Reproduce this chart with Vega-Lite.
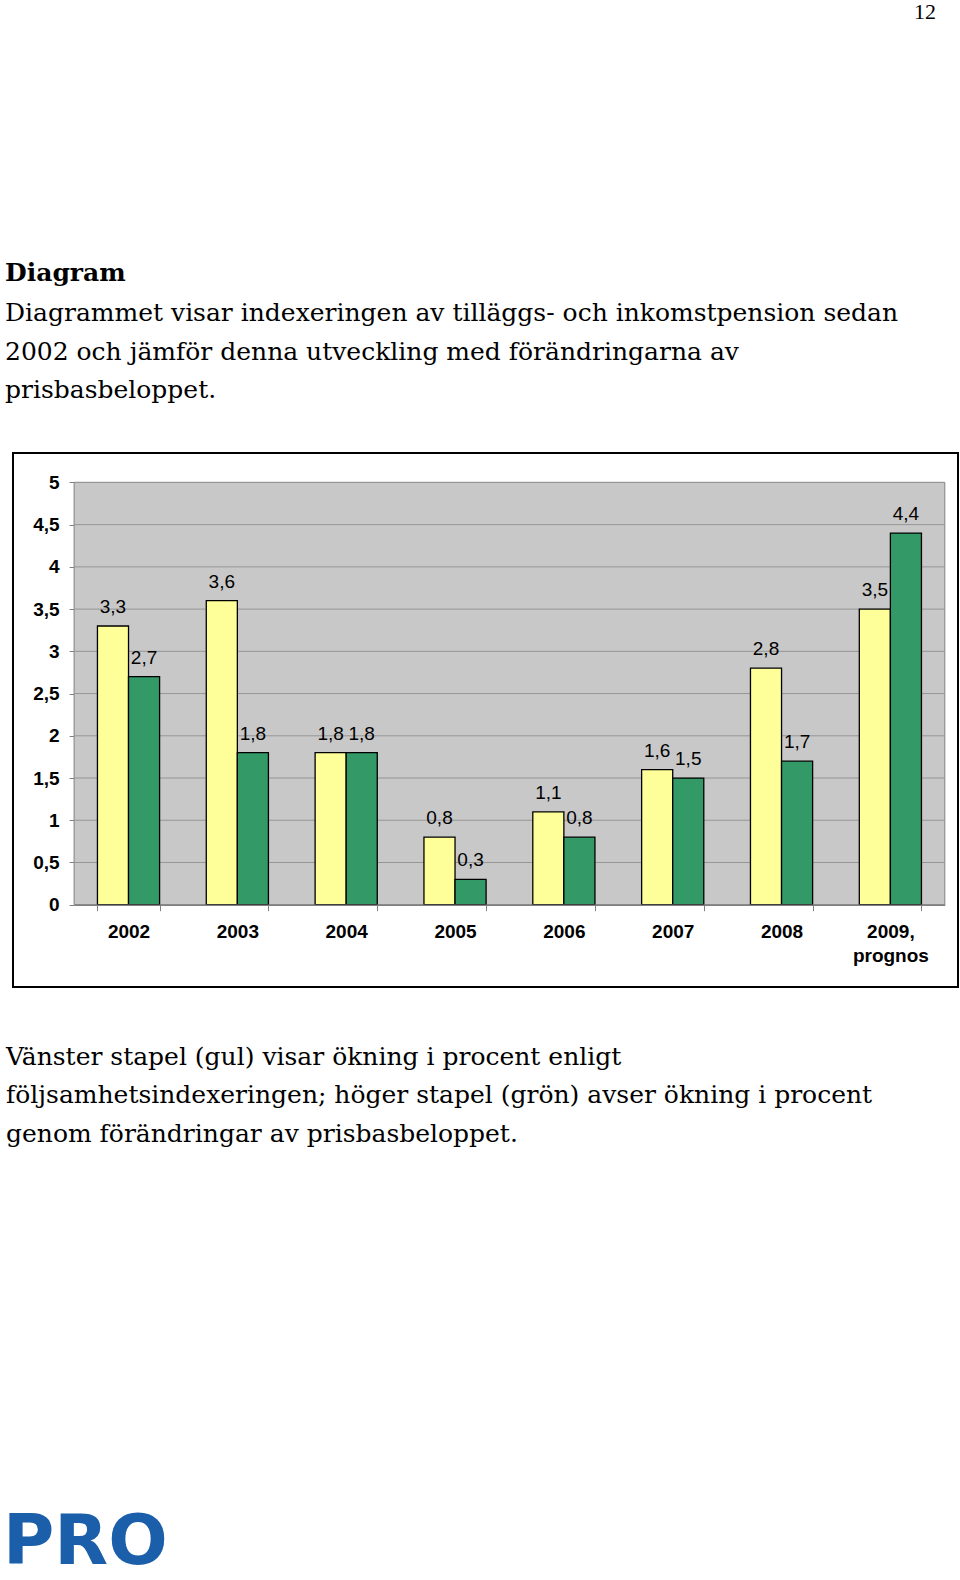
{
  "$schema": "https://vega.github.io/schema/vega-lite/v6.json",
  "background": "white",
  "padding": {"left": 3, "top": 1, "right": 0, "bottom": 0},
  "config": {
    "locale": {"number": {"decimal": ",", "thousands": " ", "grouping": [3], "currency": ["", " kr"]}},
    "view": {"stroke": "black", "strokeWidth": 2, "fill": "white"},
    "concat": {"spacing": 0}
  },
  "title": {"text": "PRO", "orient": "bottom", "anchor": "start", "frame": "bounds", "font": "DejaVu Sans", "fontSize": 70, "fontWeight": "bold", "color": "#1b5ea9", "offset": 361, "dx": -2},
  "vconcat": [
    {
      "title": {"text": "12", "anchor": "end", "frame": "bounds", "font": "Liberation Serif", "fontSize": 22, "fontWeight": "normal", "color": "black", "offset": 237, "dx": -23},
      "vconcat": [
        {
          "title": {
            "text": "Diagram",
            "subtitle": ["Diagrammet visar indexeringen av tilläggs- och inkomstpension sedan", "2002 och jämför denna utveckling med förändringarna av", "prisbasbeloppet."],
            "anchor": "start", "frame": "bounds",
            "font": "DejaVu Serif", "fontSize": 25, "fontWeight": "bold", "color": "black",
            "subtitleFont": "DejaVu Serif", "subtitleFontSize": 25, "subtitleFontWeight": "normal", "subtitleColor": "black",
            "subtitleLineHeight": 38.3, "subtitlePadding": 15, "offset": 49
          },
          "vconcat": [
            {
              "title": {
                "text": ["Vänster stapel (gul) visar ökning i procent enligt", "följsamhetsindexeringen; höger stapel (grön) avser ökning i procent", "genom förändringar av prisbasbeloppet."],
                "orient": "bottom", "anchor": "start", "frame": "bounds",
                "font": "DejaVu Serif", "fontSize": 25, "fontWeight": "normal", "color": "black",
                "lineHeight": 38.3, "offset": 58, "dx": -7
              },
              "width": 945,
              "height": 534,
              "resolve": {"scale": {"x": "independent"}},
              "layer": [
                {
                  "data": {"values": [{}]},
                  "mark": {"type": "rect", "fill": "#c8c8c8", "stroke": "#808080", "strokeWidth": 1},
                  "encoding": {
                    "x": {"datum": 0, "type": "quantitative", "scale": {"domain": [0, 1], "range": [61.1, 931.8]}, "axis": null},
                    "x2": {"datum": 1},
                    "y": {"datum": 0, "type": "quantitative", "scale": {"domain": [-0.974, 5.348], "nice": false, "zero": false},
                      "axis": {"values": [0, 0.5, 1, 1.5, 2, 2.5, 3, 3.5, 4, 4.5, 5], "format": ".1~f", "orient": "left", "offset": -61.1, "domain": false, "grid": false, "ticks": true, "tickSize": 5, "tickColor": "#808080", "labelPadding": 10, "labelFont": "Liberation Sans", "labelFontWeight": "bold", "labelFontSize": 19, "labelColor": "black", "title": null}},
                    "y2": {"datum": 5}
                  }
                },
                {
                  "data": {"values": [{"g": 0.5}, {"g": 1}, {"g": 1.5}, {"g": 2}, {"g": 2.5}, {"g": 3}, {"g": 3.5}, {"g": 4}, {"g": 4.5}, {"g": 5}]},
                  "mark": {"type": "rule", "color": "#969696", "strokeWidth": 1},
                  "encoding": {
                    "x": {"datum": 0, "type": "quantitative", "scale": {"domain": [0, 1], "range": [61.1, 931.8]}, "axis": null},
                    "x2": {"datum": 1},
                    "y": {"field": "g", "type": "quantitative", "scale": {"domain": [-0.974, 5.348], "nice": false, "zero": false},
                      "axis": {"values": [0, 0.5, 1, 1.5, 2, 2.5, 3, 3.5, 4, 4.5, 5], "format": ".1~f", "orient": "left", "offset": -61.1, "domain": false, "grid": false, "ticks": true, "tickSize": 5, "tickColor": "#808080", "labelPadding": 10, "labelFont": "Liberation Sans", "labelFontWeight": "bold", "labelFontSize": 19, "labelColor": "black", "title": null}}
                  }
                },
                {
                  "data": {"values": [
                    {"year": "2002", "serie": "Följsamhetsindexering", "value": 3.3},
                    {"year": "2002", "serie": "Prisbasbelopp", "value": 2.7},
                    {"year": "2003", "serie": "Följsamhetsindexering", "value": 3.6},
                    {"year": "2003", "serie": "Prisbasbelopp", "value": 1.8},
                    {"year": "2004", "serie": "Följsamhetsindexering", "value": 1.8},
                    {"year": "2004", "serie": "Prisbasbelopp", "value": 1.8},
                    {"year": "2005", "serie": "Följsamhetsindexering", "value": 0.8},
                    {"year": "2005", "serie": "Prisbasbelopp", "value": 0.3},
                    {"year": "2006", "serie": "Följsamhetsindexering", "value": 1.1},
                    {"year": "2006", "serie": "Prisbasbelopp", "value": 0.8},
                    {"year": "2007", "serie": "Följsamhetsindexering", "value": 1.6},
                    {"year": "2007", "serie": "Prisbasbelopp", "value": 1.5},
                    {"year": "2008", "serie": "Följsamhetsindexering", "value": 2.8},
                    {"year": "2008", "serie": "Prisbasbelopp", "value": 1.7},
                    {"year": "2009, prognos", "serie": "Följsamhetsindexering", "value": 3.5},
                    {"year": "2009, prognos", "serie": "Prisbasbelopp", "value": 4.4}
                  ]},
                  "encoding": {
                    "x": {"field": "year", "type": "nominal", "sort": null,
                      "scale": {"range": [61.1, 931.8], "paddingInner": 0.429, "paddingOuter": 0.2145},
                      "axis": {"orient": "bottom", "offset": -82.3, "domain": true, "domainColor": "#808080", "domainWidth": 1.5, "ticks": true, "tickBand": "extent", "tickSize": 6, "tickColor": "#808080", "labelAngle": 0, "labelPadding": 12, "labelFont": "Liberation Sans", "labelFontWeight": "bold", "labelFontSize": 19, "labelColor": "black", "labelLineHeight": 24, "labelExpr": "datum.value == '2009, prognos' ? ['2009,', 'prognos'] : datum.value", "title": null, "zindex": 1}},
                    "xOffset": {"field": "serie", "type": "nominal", "sort": null, "scale": {"paddingInner": 0, "paddingOuter": 0}},
                    "y": {"field": "value", "type": "quantitative", "scale": {"domain": [-0.974, 5.348], "nice": false, "zero": false},
                      "axis": {"values": [0, 0.5, 1, 1.5, 2, 2.5, 3, 3.5, 4, 4.5, 5], "format": ".1~f", "orient": "left", "offset": -61.1, "domain": false, "grid": false, "ticks": true, "tickSize": 5, "tickColor": "#808080", "labelPadding": 10, "labelFont": "Liberation Sans", "labelFontWeight": "bold", "labelFontSize": 19, "labelColor": "black", "title": null}}
                  },
                  "layer": [
                    {
                      "mark": {"type": "bar", "stroke": "black", "strokeWidth": 1.3},
                      "encoding": {
                        "y2": {"datum": 0},
                        "color": {"field": "serie", "type": "nominal", "sort": null, "scale": {"domain": ["Följsamhetsindexering", "Prisbasbelopp"], "range": ["#ffff99", "#339966"]}, "legend": null}
                      }
                    },
                    {
                      "mark": {"type": "text", "baseline": "alphabetic", "dy": -13, "font": "Liberation Sans", "fontSize": 19, "color": "black"},
                      "encoding": {
                        "text": {"field": "value", "type": "quantitative", "format": ".1f"}
                      }
                    }
                  ]
                }
              ]
            }
          ]
        }
      ]
    }
  ]
}
